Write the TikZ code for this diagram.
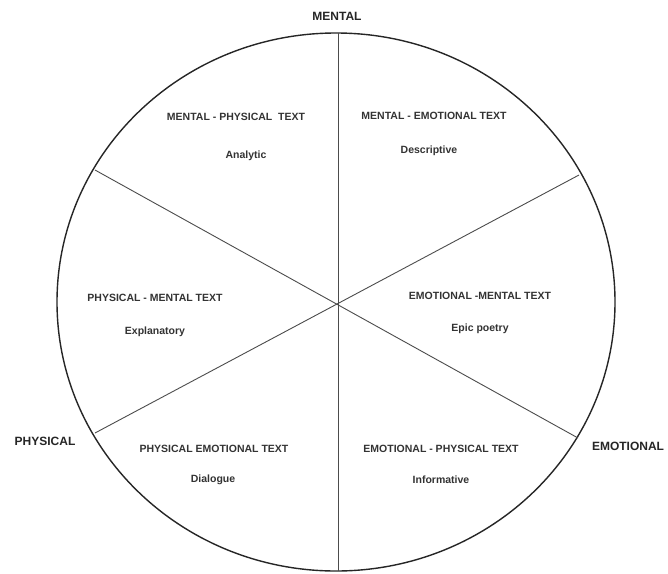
\documentclass[tikz,border=0pt]{standalone}
\usepackage{fontspec}
\setmainfont{Liberation Sans}
\begin{document}
\begin{tikzpicture}[x=1pt,y=-1pt,
  outer/.style={font=\fontsize{12}{14}\selectfont\bfseries, text=black!85},
  inner/.style={font=\fontsize{10.5}{12}\selectfont\bfseries, text=black!80},
  rim/.style={draw=black!85, line width=1.4pt},
  spoke/.style={draw=black!70, line width=0.9pt}]
\useasboundingbox (0,0) rectangle (668,573);
\fill[white] (0,0) rectangle (668,573);
% circle
\draw[rim] (336,302) ellipse [x radius=279, y radius=269];
% spokes
\coordinate (c) at (338,304);
\coordinate (top) at (338,33);
\coordinate (bot) at (338,571);
\coordinate (ul) at (95,170);
\coordinate (lr) at (578,438);
\coordinate (ur) at (579,175);
\coordinate (ll) at (95,433);
\draw[spoke] (top) -- (bot);
\draw[spoke] (ul) -- (lr);
\draw[spoke] (ur) -- (ll);
% outer labels
\node[outer] (mental) at (337,16) {MENTAL};
\node[outer] (physical) at (45,441) {PHYSICAL};
\node[outer] (emotional) at (628,446) {EMOTIONAL};
% sector labels
\node[inner] (mp) at (236,117) {MENTAL - PHYSICAL\ \ TEXT};
\node[inner] (mpd) at (246,156) {Analytic};
\node[inner] (me) at (434,116) {MENTAL - EMOTIONAL TEXT};
\node[inner] (med) at (429,151) {Descriptive};
\node[inner] (pm) at (155,298) {PHYSICAL - MENTAL TEXT};
\node[inner] (pmd) at (155,332) {Explanatory};
\node[inner] (em) at (480,296) {EMOTIONAL -MENTAL TEXT};
\node[inner] (emd) at (480,329) {Epic poetry};
\node[inner] (pe) at (214,449) {PHYSICAL EMOTIONAL TEXT};
\node[inner] (ped) at (213,480) {Dialogue};
\node[inner] (ep) at (441,449) {EMOTIONAL - PHYSICAL TEXT};
\node[inner] (epd) at (441,480) {Informative};
\end{tikzpicture}
\end{document}
